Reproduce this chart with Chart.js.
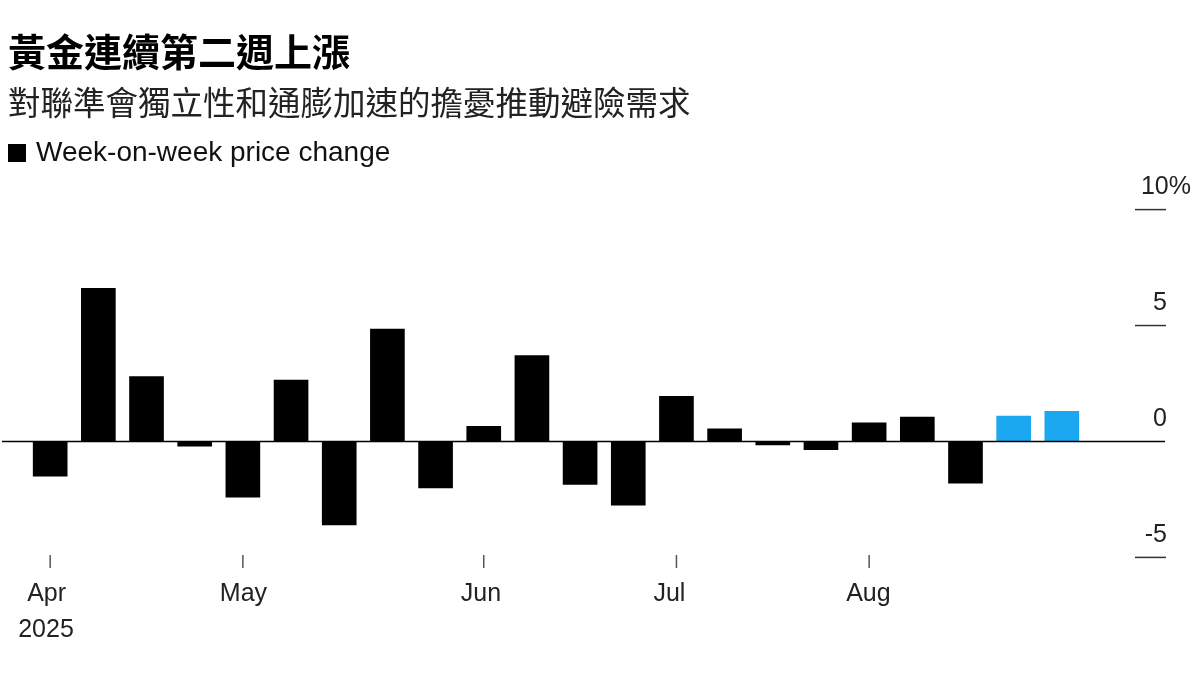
<!DOCTYPE html>
<html><head><meta charset="utf-8">
<script src="https://cdn.jsdelivr.net/npm/chart.js@4"></script>
<style>
body{margin:0;width:1200px;height:675px;background:#fff;overflow:hidden;position:relative;font-family:"Liberation Sans","Noto Sans CJK TC",sans-serif}
#wrap{position:absolute;left:0;top:0;width:1200px;height:675px}
.t{position:absolute;left:8px;color:#000;white-space:nowrap;line-height:1}
#title{top:31px;font-size:38px;font-weight:bold;font-family:"Noto Sans CJK TC",sans-serif}
#sub{top:85px;font-size:32.5px;color:#222;font-family:"Noto Sans CJK TC",sans-serif}
#leg{top:138px;font-size:28px;color:#111}
#leg i{display:inline-block;width:18px;height:18px;background:#000;margin-right:10px;vertical-align:-1px}
</style></head><body>
<div id="wrap"><canvas id="c"></canvas></div>
<div class="t" id="title">黃金連續第二週上漲</div>
<div class="t" id="sub">對聯準會獨立性和通膨加速的擔憂推動避險需求</div>
<div class="t" id="leg"><i></i>Week-on-week price change</div>
<script>
const changes=[-1.5,6.6,2.8,-0.2,-2.4,2.65,-3.6,4.85,-2.0,0.65,3.7,-1.85,-2.75,1.95,0.55,-0.15,-0.35,0.8,1.05,-1.8,1.1,1.3];
const highlight=[20,21];
const monthTicks=[{i:0,label:"Apr"},{i:4,label:"May"},{i:9,label:"Jun"},{i:13,label:"Jul"},{i:17,label:"Aug"}];
const yTicks=[10,5,0,-5];

const axisPlugin={
  id:"axisPlugin",
  afterDatasetsDraw(chart){
    const {ctx,scales:{x,y},chartArea:a}=chart;
    ctx.save();
    ctx.strokeStyle="#000";ctx.lineWidth=1.5;
    const y0=y.getPixelForValue(0);
    ctx.beginPath();ctx.moveTo(a.left,y0);ctx.lineTo(1165,y0);ctx.stroke();
    ctx.fillStyle="#222";ctx.font="25px 'Liberation Sans'";ctx.textAlign="right";ctx.textBaseline="bottom";
    yTicks.forEach(v=>{
      const p=y.getPixelForValue(v);
      if(v!==0){ctx.strokeStyle="#333";ctx.lineWidth=1.5;ctx.beginPath();ctx.moveTo(1135,p);ctx.lineTo(1166,p);ctx.stroke();}
      ctx.fillText(v===10?"10%":String(v),v===10?1191:1167,p-10);
    });
    ctx.textBaseline="top";ctx.textAlign="left";
    monthTicks.forEach(t=>{
      const px=x.getPixelForValue(t.i);
      ctx.strokeStyle="#555";ctx.beginPath();ctx.moveTo(px,555);ctx.lineTo(px,568);ctx.stroke();
      ctx.fillText(t.label,px-23,582);
    });
    ctx.fillText("2025",x.getPixelForValue(0)-32,618);
    ctx.restore();
  }
};

new Chart(document.getElementById("c"),{
  type:"bar",
  data:{datasets:[{data:changes.map((v,i)=>({x:i,y:v})),
    backgroundColor:changes.map((v,i)=>highlight.includes(i)?"#1ba8f0":"#000"),
    barThickness:34}]},
  options:{responsive:true,maintainAspectRatio:false,animation:false,
    layout:{padding:{top:198,bottom:106,left:2,right:50}},
    plugins:{legend:{display:false},tooltip:{enabled:false}},
    scales:{
      x:{type:"linear",offset:false,min:-1,max:22.83,display:false,grid:{display:false}},
      y:{min:-5.5,max:10.5,display:false}
    }},
  plugins:[axisPlugin]
});
</script></body></html>
